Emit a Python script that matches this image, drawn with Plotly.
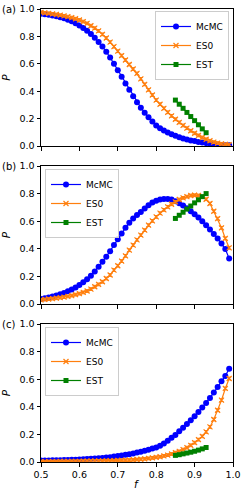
import plotly.graph_objects as go

f_grid = [0.50, 0.51, 0.52, 0.53, 0.54, 0.55, 0.56, 0.57, 0.58, 0.59,
          0.60, 0.61, 0.62, 0.63, 0.64, 0.65, 0.66, 0.67, 0.68, 0.69,
          0.70, 0.71, 0.72, 0.73, 0.74, 0.75, 0.76, 0.77, 0.78, 0.79,
          0.80, 0.81, 0.82, 0.83, 0.84, 0.85, 0.86, 0.87, 0.88, 0.89,
          0.90, 0.91, 0.92, 0.93, 0.94, 0.95, 0.96, 0.97, 0.98, 0.99]
f_est = [0.85, 0.86, 0.87, 0.88, 0.89, 0.90, 0.91, 0.92, 0.93]

a_mcmc = [0.965, 0.962, 0.958, 0.953, 0.947, 0.940, 0.932, 0.922, 0.910, 0.896,
          0.880, 0.862, 0.842, 0.818, 0.790, 0.760, 0.726, 0.688, 0.646, 0.600,
          0.553, 0.505, 0.457, 0.410, 0.364, 0.320, 0.280, 0.243, 0.209, 0.178,
          0.150, 0.130, 0.113, 0.099, 0.086, 0.075, 0.064, 0.055, 0.047, 0.041,
          0.036, 0.030, 0.025, 0.021, 0.017, 0.013, 0.010, 0.008, 0.006, 0.005]
a_es0 = [0.975, 0.972, 0.968, 0.964, 0.960, 0.955, 0.950, 0.944, 0.937, 0.929,
         0.920, 0.908, 0.895, 0.878, 0.860, 0.840, 0.815, 0.788, 0.758, 0.725,
         0.692, 0.660, 0.628, 0.595, 0.562, 0.530, 0.490, 0.450, 0.410, 0.372,
         0.335, 0.305, 0.275, 0.246, 0.220, 0.195, 0.172, 0.150, 0.130, 0.111,
         0.093, 0.077, 0.062, 0.049, 0.038, 0.028, 0.021, 0.016, 0.012, 0.010]
a_est = [0.335, 0.305, 0.275, 0.245, 0.215, 0.185, 0.155, 0.125, 0.097]

b_mcmc = [0.036, 0.041, 0.047, 0.054, 0.062, 0.070, 0.080, 0.092, 0.105, 0.120,
          0.138, 0.158, 0.180, 0.205, 0.235, 0.270, 0.306, 0.342, 0.383, 0.427,
          0.470, 0.511, 0.552, 0.588, 0.620, 0.645, 0.667, 0.692, 0.716, 0.735,
          0.749, 0.757, 0.761, 0.761, 0.757, 0.745, 0.730, 0.713, 0.694, 0.672,
          0.651, 0.627, 0.600, 0.571, 0.540, 0.508, 0.475, 0.439, 0.398, 0.330]
b_es0 = [0.030, 0.033, 0.036, 0.039, 0.042, 0.046, 0.050, 0.055, 0.061, 0.068,
         0.075, 0.084, 0.094, 0.108, 0.125, 0.142, 0.161, 0.185, 0.210, 0.246,
         0.277, 0.311, 0.349, 0.390, 0.427, 0.465, 0.499, 0.535, 0.571, 0.602,
         0.631, 0.658, 0.682, 0.704, 0.723, 0.740, 0.757, 0.769, 0.778, 0.786,
         0.788, 0.786, 0.778, 0.759, 0.728, 0.672, 0.619, 0.552, 0.475, 0.407]
b_est = [0.620, 0.643, 0.665, 0.688, 0.710, 0.733, 0.755, 0.778, 0.800]

c_mcmc = [0.010, 0.010, 0.011, 0.012, 0.012, 0.013, 0.014, 0.015, 0.016, 0.017,
          0.018, 0.020, 0.021, 0.023, 0.025, 0.027, 0.029, 0.032, 0.035, 0.039,
          0.043, 0.047, 0.052, 0.057, 0.062, 0.068, 0.074, 0.081, 0.089, 0.097,
          0.105, 0.118, 0.134, 0.154, 0.175, 0.196, 0.222, 0.249, 0.275, 0.302,
          0.331, 0.362, 0.395, 0.428, 0.464, 0.503, 0.543, 0.585, 0.624, 0.676]
c_es0 = [0.002, 0.002, 0.003, 0.003, 0.003, 0.004, 0.004, 0.004, 0.005, 0.005,
         0.005, 0.006, 0.006, 0.007, 0.007, 0.008, 0.008, 0.009, 0.009, 0.010,
         0.011, 0.012, 0.013, 0.014, 0.016, 0.018, 0.020, 0.023, 0.026, 0.030,
         0.034, 0.038, 0.044, 0.050, 0.058, 0.068, 0.077, 0.090, 0.104, 0.121,
         0.140, 0.162, 0.186, 0.218, 0.254, 0.308, 0.375, 0.448, 0.533, 0.605]
c_est = [0.048, 0.053, 0.059, 0.065, 0.071, 0.078, 0.086, 0.095, 0.105]

y_ticks = [0.0, 0.2, 0.4, 0.6, 0.8, 1.0]
x_ticks = [0.5, 0.6, 0.7, 0.8, 0.9, 1.0]
series_names = ["McMC", "ES0", "EST"]
panel_labels = ["(a)", "(b)", "(c)"]

BLUE = "#0000ff"
ORANGE = "#ff7f0e"
GREEN = "#008000"
FONT = "DejaVu Sans"

W, H = 241, 491
L, R, T, B = 41, 8, 9, 29
pw = W - L - R
ph = H - T - B
panels_px = [(9, 146), (166, 304), (324, 462)]
domains = [[(462 - b) / ph, (462 - t) / ph] for (t, b) in panels_px]

fig = go.Figure()
data = [(a_mcmc, a_es0, a_est), (b_mcmc, b_es0, b_est), (c_mcmc, c_es0, c_est)]
legend_ids = ["legend", "legend2", "legend3"]
for i, (mc, es0, est) in enumerate(data):
    xa = "x" if i == 0 else f"x{i+1}"
    ya = "y" if i == 0 else f"y{i+1}"
    lg = legend_ids[i]
    fig.add_trace(go.Scatter(x=f_grid, y=mc, mode="lines+markers", name=series_names[0],
                             line=dict(color=BLUE, width=1.2),
                             marker=dict(symbol="circle", size=6, color=BLUE),
                             xaxis=xa, yaxis=ya, legend=lg))
    fig.add_trace(go.Scatter(x=f_grid, y=es0, mode="lines+markers", name=series_names[1],
                             line=dict(color=ORANGE, width=1.2),
                             marker=dict(symbol="x-thin", size=5, color=ORANGE,
                                         line=dict(color=ORANGE, width=1.2)),
                             error_y=dict(type="constant", value=0.01, color=ORANGE,
                                          thickness=1, width=2),
                             xaxis=xa, yaxis=ya, legend=lg))
    fig.add_trace(go.Scatter(x=f_est, y=est, mode="lines+markers", name=series_names[2],
                             line=dict(color=GREEN, width=1.2),
                             marker=dict(symbol="square", size=5, color=GREEN),
                             xaxis=xa, yaxis=ya, legend=lg))

axis_common = dict(showline=True, linecolor="black", linewidth=1, mirror=True,
                   ticks="outside", ticklen=3.5, tickwidth=1, tickcolor="black",
                   showgrid=False, zeroline=False, automargin=False,
                   ticklabeloverflow="allow",
                   tickfont=dict(family=FONT, size=9.5, color="black"))
layout = dict(width=W, height=H, margin=dict(l=L, r=R, t=T, b=B, autoexpand=False),
              plot_bgcolor="white", paper_bgcolor="white", showlegend=True,
              font=dict(family=FONT, size=9.5, color="black"))
for i in range(3):
    xk = "xaxis" if i == 0 else f"xaxis{i+1}"
    yk = "yaxis" if i == 0 else f"yaxis{i+1}"
    ya = "y" if i == 0 else f"y{i+1}"
    xa = "x" if i == 0 else f"x{i+1}"
    layout[xk] = dict(axis_common, range=[0.5, 1.0], tickvals=x_ticks,
                      ticktext=[f"{v:.1f}" for v in x_ticks],
                      showticklabels=(i == 2), anchor=ya, domain=[0, 1])
    layout[yk] = dict(axis_common, range=[0, 1.0], tickvals=y_ticks,
                      ticktext=[f"{v:.1f}" for v in y_ticks],
                      anchor=xa, domain=domains[i],
                      title=dict(text="<i>P</i>", font=dict(family=FONT, size=10.5), standoff=6))

leg_common = dict(bgcolor="rgba(255,255,255,0.8)", bordercolor="#cccccc", borderwidth=1,
                  font=dict(family=FONT, size=9, color="black"), tracegroupgap=0,
                  itemwidth=30, yanchor="top")
layout["legend"] = dict(leg_common, x=(229 - L) / pw, xanchor="right", y=(462 - 11) / ph)
layout["legend2"] = dict(leg_common, x=(45 - L) / pw, xanchor="left", y=(462 - 169) / ph)
layout["legend3"] = dict(leg_common, x=(45 - L) / pw, xanchor="left", y=(462 - 327) / ph)

fig.update_layout(**layout)

for i, lab in enumerate(panel_labels):
    t = panels_px[i][0]
    fig.add_annotation(text=lab, xref="paper", yref="paper", x=-L / pw, xanchor="left",
                       y=(462 - t) / ph, yanchor="middle", showarrow=False,
                       font=dict(family=FONT, size=10, color="black"))

fig.add_annotation(text="<i>f</i>", xref="paper", yref="paper", x=0.5, xanchor="center",
                   y=(462 - 484) / ph, yanchor="middle", showarrow=False,
                   font=dict(family=FONT, size=10.5, color="black"))

fig.write_html("out.html",
               config={"displayModeBar": False, "staticPlot": True},
               post_script="document.body.style.margin='0';document.body.style.overflow='hidden';")
